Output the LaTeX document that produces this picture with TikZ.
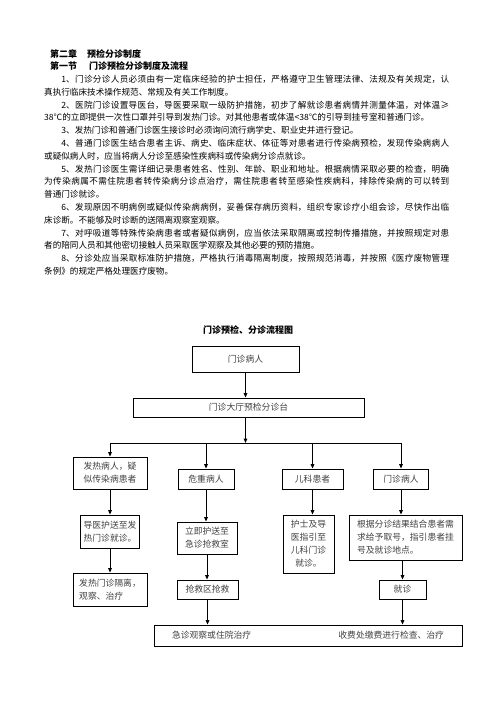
\documentclass[tikz,border=0pt]{standalone}
\usepackage{fontspec}
\setmainfont{Noto Sans CJK SC}
\XeTeXlinebreaklocale "zh"
\XeTeXlinebreakskip=0pt plus 1pt
\usetikzlibrary{positioning,arrows.meta}
\newcommand{\rulepar}{\par\hspace*{2em}}

\begin{document}
\begin{tikzpicture}[x=1pt,y=-1pt,
  headtext/.style={anchor=west, inner sep=0pt, font=\fontsize{9}{11}\selectfont\bfseries},
  bodytext/.style={anchor=north west, inner sep=0pt, text width=405pt, align=justify, font=\fontsize{8.6}{12.8}\selectfont},
  flowbox/.style={draw, line width=0.8pt, inner sep=2pt, font=\fontsize{8.8}{13}\selectfont, text=black!75, align=center},
  flowarrow/.style={-{Triangle[length=4.5pt,width=3.6pt]}, line width=1pt},
]
\useasboundingbox (0,0) rectangle (496,702);

% chapter and section headings
\node[headtext] (chapter) at (50,54) {第二章\hspace{10pt}预检分诊制度};
\node[headtext] (section) at (50,66) {第一节\hspace{12pt}门诊预检分诊制度及流程};

% rules text
\node[bodytext] (rules) at (44,75) {\hspace*{2em}1、门诊分诊人员必须由有一定临床经验的护士担任，严格遵守卫生管理法律、法规及有关规定，认\linebreak
真执行临床技术操作规范、常规及有关工作制度。
\rulepar 2、医院门诊设置导医台，导医要采取一级防护措施，初步了解就诊患者病情并测量体温，对体温≥\linebreak
38℃的立即提供一次性口罩并引导到发热门诊。对其他患者或体温<38℃的引导到挂号室和普通门诊。
\rulepar 3、发热门诊和普通门诊医生接诊时必须询问流行病学史、职业史并进行登记。
\rulepar 4、普通门诊医生结合患者主诉、病史、临床症状、体征等对患者进行传染病预检，发现传染病病人\linebreak
或疑似病人时，应当将病人分诊至感染性疾病科或传染病分诊点就诊。
\rulepar 5、发热门诊医生需详细记录患者姓名、性别、年龄、职业和地址。根据病情采取必要的检查，明确\linebreak
为传染病属不需住院患者转传染病分诊点治疗，需住院患者转至感染性疾病科，排除传染病的可以转到\linebreak
普通门诊就诊。
\rulepar 6、发现原因不明病例或疑似传染病病例，妥善保存病历资料，组织专家诊疗小组会诊，尽快作出临\linebreak
床诊断。不能够及时诊断的送隔离观察室观察。
\rulepar 7、对呼吸道等特殊传染病患者或者疑似病例，应当依法采取隔离或控制传播措施，并按照规定对患\linebreak
者的陪同人员和其他密切接触人员采取医学观察及其他必要的预防措施。
\rulepar 8、分诊处应当采取标准防护措施，严格执行消毒隔离制度，按照规范消毒，并按照《医疗废物管理\linebreak
条例》的规定严格处理医疗废物。};

% flow chart
\node[headtext, anchor=center] (charttitle) at (248,330) {门诊预检、分诊流程图};

\node[flowbox, minimum width=107pt, minimum height=26pt] (patient) at (245.5,359) {门诊病人};
\node[flowbox, minimum width=231pt, minimum height=19pt] (desk) at (248.5,407.5) {门诊大厅预检分诊台};
\draw[flowarrow] (patient.south) -- (patient.south |- desk.north);

\coordinate (split) at (245.5,443);
\draw[flowarrow] (patient.south |- desk.south) -- (split);

% four kinds of patients
\node[flowbox, minimum width=74pt, minimum height=32pt] (fever) at (110,473) {发热病人，疑\\似传染病患者};
\node[flowbox, minimum width=56pt, minimum height=20pt] (critical) at (206,479) {危重病人};
\node[flowbox, minimum width=61pt, minimum height=20pt] (child) at (312.5,479) {儿科患者};
\node[flowbox, minimum width=55pt, minimum height=20pt] (outpat) at (401,479) {门诊病人};

\draw[line width=1pt] (fever |- split) -- (outpat |- split);
\foreach \b in {fever,critical,child,outpat}
  \draw[flowarrow] (\b |- split) -- (\b.north);

% second row
\node[flowbox, minimum width=59pt, minimum height=33pt] (guide) at (110,531.5) {导医护送至发\\热门诊就诊。};
\node[flowbox, minimum width=60pt, minimum height=32pt] (rescue) at (207,538) {立即护送至\\急诊抢救室};
\node[flowbox, minimum width=51pt, minimum height=58pt] (nurse) at (308.5,544) {护士及导\\医指引至\\儿科门诊\\就诊。};
\node[flowbox, align=left, minimum width=113pt, minimum height=45pt] (ticket) at (405.5,537.5) {根据分诊结果结合患者需\\求给予取号，指引患者挂\\号及就诊地点。};

\draw[flowarrow] (fever.south) -- (fever.south |- guide.north);
\draw[flowarrow] (critical.south) -- (critical.south |- rescue.north);
\draw[flowarrow] (child.south) -- (child.south |- nurse.north);
\draw[flowarrow] (outpat.south) -- (outpat.south |- ticket.north);

% third row
\node[flowbox, align=left, minimum width=74pt, minimum height=33pt] (isolate) at (110,589.5) {发热门诊隔离，\\观察、治疗};
\node[flowbox, minimum width=61pt, minimum height=19pt] (emerg) at (207.5,589.5) {抢救区抢救};
\node[flowbox, minimum width=47pt, minimum height=19pt] (visit) at (402.5,589.5) {就诊};

\draw[flowarrow] (guide.south) -- (guide.south |- isolate.north);
\draw[flowarrow] (rescue.south) -- (rescue.south |- emerg.north);
\draw[flowarrow] (visit.north |- ticket.south) -- (visit.north);

% last row
\node[flowbox, minimum width=308pt, minimum height=21pt, text width=272pt, align=left] (result) at (308,635.5) {急诊观察或住院治疗\hfill 收费处缴费进行检查、治疗};
\draw[flowarrow] (emerg.south) -- (emerg.south |- result.north);
\draw[flowarrow] (visit.south) -- (visit.south |- result.north);
\end{tikzpicture}
\end{document}
